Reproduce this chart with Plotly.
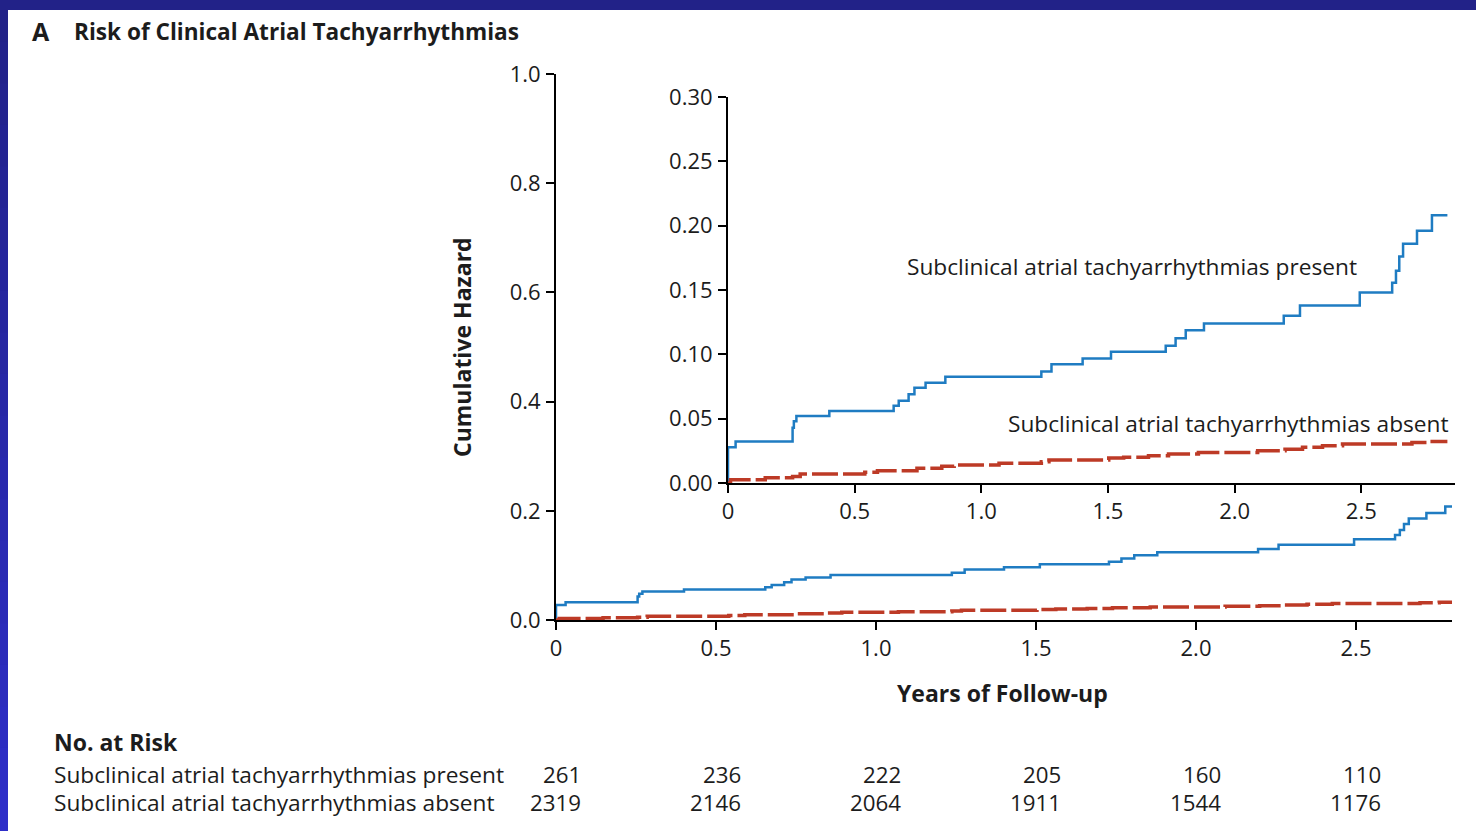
import plotly.graph_objects as go

# ---- data ----
present_t = [0, 0, 0.03, 0.255, 0.26, 0.27, 0.40, 0.654, 0.674, 0.713, 0.736, 0.78, 0.858,
             1.237, 1.277, 1.40, 1.512, 1.728, 1.767, 1.807, 1.879, 2.194, 2.258, 2.494,
             2.622, 2.637, 2.65, 2.665, 2.72, 2.779, 2.84]
present_h = [0, 0.0277, 0.0323, 0.043, 0.048, 0.052, 0.056, 0.060, 0.064, 0.069, 0.074, 0.078, 0.0825,
             0.0866, 0.0923, 0.0967, 0.102, 0.1066, 0.1125, 0.1187, 0.124, 0.130, 0.138, 0.148,
             0.1557, 0.165, 0.176, 0.186, 0.196, 0.208, 0.208]
absent_t = [0, 0.01, 0.147, 0.255, 0.285, 0.54, 0.59, 0.746, 0.844, 0.893, 1.07, 1.237, 1.267,
            1.503, 1.562, 1.66, 1.739, 1.857, 2.091, 2.199, 2.268, 2.347, 2.426, 2.70, 2.76, 2.84]
absent_h = [0, 0.0026, 0.004, 0.005, 0.007, 0.0083, 0.0096, 0.0114, 0.013, 0.014, 0.0153, 0.0166, 0.0178,
            0.0194, 0.0200, 0.0212, 0.0225, 0.0238, 0.025, 0.0263, 0.0277, 0.029, 0.0303, 0.0315, 0.0323, 0.0323]

main_xticks = [0, 0.5, 1.0, 1.5, 2.0, 2.5]
main_xtext = ["0", "0.5", "1.0", "1.5", "2.0", "2.5"]
main_yticks = [0, 0.2, 0.4, 0.6, 0.8, 1.0]
main_ytext = ["0.0", "0.2", "0.4", "0.6", "0.8", "1.0"]
inset_yticks = [0, 0.05, 0.10, 0.15, 0.20, 0.25, 0.30]
inset_ytext = ["0.00", "0.05", "0.10", "0.15", "0.20", "0.25", "0.30"]

risk_times = [0, 0.5, 1.0, 1.5, 2.0, 2.5]
risk_present = [261, 236, 222, 205, 160, 110]
risk_absent = [2319, 2146, 2064, 1911, 1544, 1176]

label_present = "Subclinical atrial tachyarrhythmias present"
label_absent = "Subclinical atrial tachyarrhythmias absent"

BLUE = "#1f7cc2"
RED = "#bd3a26"
TXT = "#1c1c1c"
FONT = "Open Sans"
FS = 22.7

W, H = 1476, 831
def px(x):
    return x / W
def py(y):
    return 1 - y / H

fig = go.Figure()
for xa, ya in [("x", "y"), ("x2", "y2")]:
    fig.add_trace(go.Scatter(x=present_t, y=present_h, mode="lines", line=dict(color=BLUE, width=2.5, shape="hv"),
                             xaxis=xa, yaxis=ya, showlegend=False, hoverinfo="skip"))
    fig.add_trace(go.Scatter(x=absent_t, y=absent_h, mode="lines", line=dict(color=RED, width=3.5, shape="hv", dash="26px,5px"),
                             xaxis=xa, yaxis=ya, showlegend=False, hoverinfo="skip"))

axcommon = dict(showgrid=False, zeroline=False, showline=True, linecolor="black", linewidth=2,
                ticks="outside", ticklen=8, tickwidth=2, tickcolor="black", automargin=False,
                tickfont=dict(family=FONT, size=22, color=TXT), fixedrange=True)

fig.update_layout(
    template="none",
    width=W, height=H, margin=dict(l=0, r=0, t=0, b=0, pad=0, autoexpand=False),
    paper_bgcolor="white", plot_bgcolor="rgba(0,0,0,0)",
    xaxis=dict(domain=[px(556), px(1452)], range=[0, 2.80], tickvals=main_xticks, ticktext=main_xtext,
               anchor="y", ticklabelstandoff=0, **axcommon),
    yaxis=dict(domain=[py(620), py(74)], range=[0, 1.0], tickvals=main_yticks, ticktext=main_ytext,
               anchor="x", ticklabelstandoff=1, **axcommon),
    xaxis2=dict(domain=[px(728), px(1455)], range=[0, 2.87], tickvals=main_xticks, ticktext=main_xtext,
                anchor="y2", ticklabelstandoff=0, **axcommon),
    yaxis2=dict(domain=[py(483), py(97)], range=[0, 0.30], tickvals=inset_yticks, ticktext=inset_ytext,
                anchor="x2", ticklabelstandoff=1, **axcommon),
)

ann = []
def text(x, y, s, size=FS, bold=False, xanchor="left", **kw):
    t = f"<b>{s}</b>" if bold else s
    ann.append(dict(x=px(x), y=py(y), xref="paper", yref="paper", text=t, showarrow=False,
                    xanchor=xanchor, yanchor="middle", font=dict(family=FONT, size=size, color=TXT), **kw))

text(30, 31, "A", size=25, bold=True)
text(72, 31, "Risk of Clinical Atrial Tachyarrhythmias", size=22.6, bold=True)
text(462, 347, "Cumulative Hazard", size=23, bold=True, xanchor="center", textangle=-90)
text(1003, 693, "Years of Follow-up", size=23, bold=True, xanchor="center")
text(1132, 266, label_present, xanchor="center")
text(1451, 423, label_absent, xanchor="right")
text(52, 742, "No. at Risk", size=23, bold=True)
text(52, 774, label_present)
text(52, 802, label_absent)

for t, a, b in zip(risk_times, risk_present, risk_absent):
    for val, yy in [(a, 774), (b, 802)]:
        ann.append(dict(x=t, y=py(yy), xref="x", yref="paper", text=str(val), showarrow=False,
                        xanchor="right", yanchor="middle", xshift=27,
                        font=dict(family=FONT, size=22.3, color=TXT)))
fig.update_layout(annotations=ann)

# frame: navy top band and left band with gradient
shapes = []
n = 20
for i in range(n):
    f = i / (n - 1)
    r = int(0x22 + (0x2e - 0x22) * f)
    g = int(0x22 + (0x2e - 0x22) * f)
    bl = int(0x88 + (0xc8 - 0x88) * f)
    shapes.append(dict(type="rect", xref="paper", yref="paper", x0=0, x1=px(8),
                       y0=max(0, 1 - (i + 1) / n - 0.01), y1=1 - i / n,
                       fillcolor=f"rgb({r},{g},{bl})", line=dict(width=0), layer="above"))
shapes.append(dict(type="rect", xref="paper", yref="paper", x0=0, x1=1, y0=py(10), y1=1,
                   fillcolor="#222288", line=dict(width=0), layer="above"))
fig.update_layout(shapes=shapes)

fig.write_html("out.html")
